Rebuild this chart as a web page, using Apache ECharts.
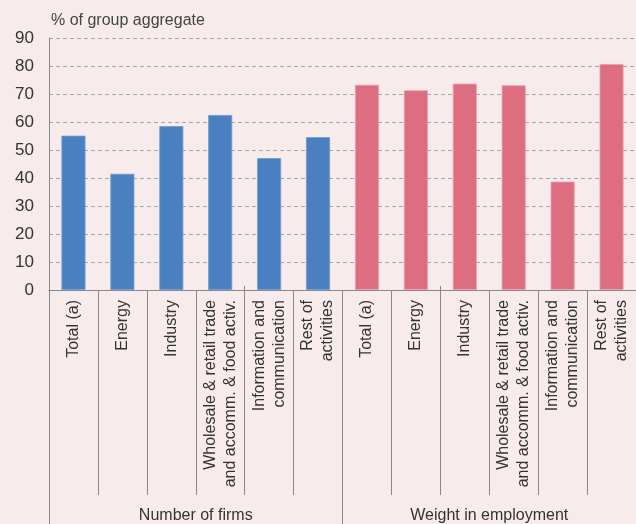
<!DOCTYPE html>
<html>
<head>
<meta charset="utf-8">
<script src="https://cdn.jsdelivr.net/npm/echarts@6/dist/echarts.min.js"></script>
<style>
html,body{margin:0;padding:0;background:#f7ebeb;}
#chart{width:636px;height:524px;}
</style>
</head>
<body>
<div id="chart"></div>
<script>
const categories = [
  'Total (a)', 'Energy', 'Industry', 'Wholesale & retail trade\nand accomm. & food activ.', 'Information and\ncommunication', 'Rest of\nactivities',
  'Total (a)', 'Energy', 'Industry', 'Wholesale & retail trade\nand accomm. & food activ.', 'Information and\ncommunication', 'Rest of\nactivities'
];
const groups = ['Number of firms', 'Weight in employment'];
const numberOfFirms = [55.1, 41.5, 58.5, 62.5, 47.1, 54.6];
const weightInEmployment = [73.3, 71.3, 73.7, 73.1, 38.7, 80.7];
const yTicks = { min: 0, max: 90, interval: 10 };

const blueData = numberOfFirms.concat(new Array(6).fill('-'));
const pinkData = new Array(6).fill('-').concat(weightInEmployment);

const chart = echarts.init(document.getElementById('chart'), null, { renderer: 'canvas' });
const textColor = '#333';
const axisColor = '#888';
chart.setOption({
  backgroundColor: '#f7ebeb',
  animation: false,
  title: {
    text: '% of group aggregate',
    left: 46, top: 8,
    textStyle: { fontFamily: 'Liberation Sans', fontSize: 16, fontWeight: 'normal', color: '#444' }
  },
  grid: { left: 49, right: -1, top: 38, bottom: 234, containLabel: false },
  xAxis: [
    {
      type: 'category', data: categories, position: 'bottom',
      axisLine: { show: true, lineStyle: { color: axisColor, width: 1 } },
      axisTick: { show: true, length: 205, lineStyle: { color: axisColor, width: 1 } },
      axisLabel: {
        rotate: 90, interval: 0, margin: 10,
        fontFamily: 'Liberation Sans', fontSize: 16, lineHeight: 20, color: textColor
      }
    },
    {
      type: 'category', data: groups, position: 'bottom', offset: 205,
      axisLine: { show: false },
      axisTick: { show: true, length: 32, lineStyle: { color: axisColor, width: 1 } },
      axisLabel: { interval: 0, margin: 13, fontFamily: 'Liberation Sans', fontSize: 16, color: textColor }
    },
    {
      type: 'category', data: categories, position: 'bottom',
      axisLine: { show: false },
      axisTick: { show: true, inside: true, length: 4, lineStyle: { color: axisColor, width: 1 } },
      axisLabel: { show: false }
    }
  ],
  yAxis: {
    type: 'value', min: yTicks.min, max: yTicks.max, interval: yTicks.interval,
    axisLine: { show: true, lineStyle: { color: axisColor, width: 1 } },
    axisTick: { show: false },
    axisLabel: { margin: 15, fontFamily: 'Liberation Sans', fontSize: 17, color: textColor },
    splitLine: { show: true, lineStyle: { color: '#a9a5a6', type: [4, 3], width: 1 } }
  },
  series: [
    {
      type: 'bar', data: blueData, xAxisIndex: 0, barWidth: 24, barGap: '-100%',
      itemStyle: { color: '#4a80c2', borderColor: '#6f9ad0', borderWidth: 0.8 }
    },
    {
      type: 'bar', data: pinkData, xAxisIndex: 0, barWidth: 24, barGap: '-100%',
      itemStyle: { color: '#dc6e80', borderColor: '#e8a0ac', borderWidth: 0.8 }
    }
  ]
});
</script>
</body>
</html>
